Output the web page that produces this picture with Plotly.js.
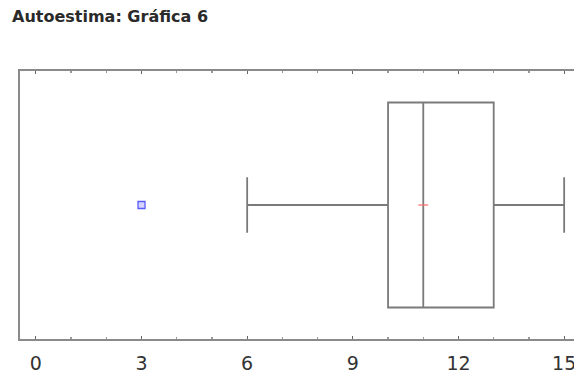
<!DOCTYPE html>
<html>
<head>
<meta charset="utf-8">
<script src="https://cdn.plot.ly/plotly-3.0.1.min.js"></script>
<style>
html,body{margin:0;padding:0;overflow:hidden;background:#fff;width:574px;height:375px;}
#chart{width:600px;height:375px;}
</style>
</head>
<body>
<div id="chart"></div>
<script>
// Data
const chartTitle = "Autoestima: Gráfica 6";
const boxPosition = [0];
const lowerWhisker = [6];
const firstQuartile = [10];
const medianValue = [11];
const thirdQuartile = [13];
const upperWhisker = [15];
const meanValue = [11];
const outlierValues = [3];
const tickValues = [0, 3, 6, 9, 12, 15];
const tickLabels = ["0", "3", "6", "9", "12", "15"];

const traces = [
  {
    type: "box",
    orientation: "h",
    y: boxPosition,
    q1: firstQuartile,
    median: medianValue,
    q3: thirdQuartile,
    lowerfence: lowerWhisker,
    upperfence: upperWhisker,
    width: 0.765,
    whiskerwidth: 0.27,
    fillcolor: "rgba(0,0,0,0)",
    line: {color: "#7a7a7a", width: 1.8},
    boxpoints: false,
    hoverinfo: "skip",
    showlegend: false
  },
  {
    type: "scatter",
    mode: "markers",
    x: outlierValues,
    y: outlierValues.map(() => boxPosition[0]),
    marker: {symbol: "square", size: 7, color: "#d4d4ff", line: {color: "#5a5aff", width: 1.3}},
    showlegend: false,
    hoverinfo: "skip"
  },
  {
    type: "scatter",
    mode: "markers",
    x: meanValue,
    y: meanValue.map(() => boxPosition[0]),
    marker: {symbol: "line-ew", size: 7, line: {color: "#ff6a6a", width: 1.2}},
    showlegend: false,
    hoverinfo: "skip"
  }
];

const layout = {
  width: 600,
  height: 375,
  paper_bgcolor: "#ffffff",
  plot_bgcolor: "#ffffff",
  margin: {l: 20, r: 20, t: 71, b: 36},
  title: {
    text: chartTitle,
    x: 12 / 600, xref: "container", xanchor: "left",
    y: 1, yref: "container", yanchor: "top",
    pad: {t: 11},
    font: {family: "DejaVu Sans, Verdana, sans-serif", size: 16, color: "#2a2a2a", weight: "bold"}
  },
  xaxis: {
    range: [-0.45, 15.45],
    tickvals: tickValues,
    ticktext: tickLabels,
    ticks: "inside",
    ticklen: 3,
    tickwidth: 1.2,
    tickcolor: "#666",
    minor: {dtick: 1, tick0: 0, ticks: "inside", ticklen: 2, tickcolor: "#999", showgrid: false},
    showgrid: false,
    zeroline: false,
    showline: true,
    linecolor: "#8a8a8a",
    linewidth: 2,
    mirror: "ticks",
    ticklabelstandoff: 6,
    tickfont: {family: "DejaVu Sans, Verdana, sans-serif", size: 19, color: "#333"}
  },
  yaxis: {
    range: [-0.5, 0.5],
    showticklabels: false,
    ticks: "",
    showgrid: false,
    zeroline: false,
    showline: true,
    linecolor: "#8a8a8a",
    linewidth: 2,
    mirror: true
  }
};

Plotly.newPlot("chart", traces, layout, {staticPlot: true, displayModeBar: false});
</script>
</body>
</html>
